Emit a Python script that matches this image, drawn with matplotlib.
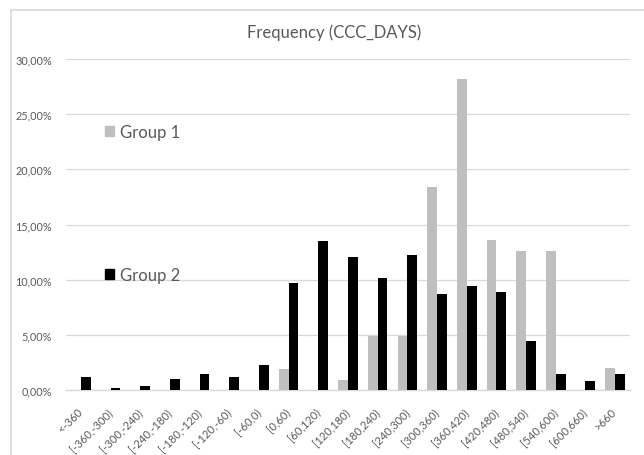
import matplotlib
matplotlib.use("Agg")
import matplotlib.pyplot as plt
from matplotlib.patches import Patch
import numpy as np

plt.rcParams['font.family'] = ['Lato', 'DejaVu Sans']

categories = ["<-360", "[-360,-300)", "[-300,-240)", "[-240,-180)", "[-180,-120)",
              "[-120,-60)", "[-60,0)", "[0,60)", "[60,120)", "[120,180)",
              "[180,240)", "[240,300)", "[300,360)", "[360,420)", "[420,480)",
              "[480,540)", "[540,600)", "[600,660)", ">660"]

group1 = [0.0, 0.0, 0.0, 0.0, 0.0, 0.0, 0.0, 1.9, 0.0, 0.95,
          4.85, 4.85, 18.4, 28.2, 13.6, 12.6, 12.6, 0.0, 1.95]
group2 = [1.15, 0.15, 0.33, 0.97, 1.45, 1.15, 2.24, 9.73, 13.54, 12.09,
          10.18, 12.27, 8.67, 9.46, 8.85, 4.41, 1.45, 0.79, 1.45]

yticks = [0, 5, 10, 15, 20, 25, 30]
ytick_labels = ["0,00%", "5,00%", "10,00%", "15,00%", "20,00%", "25,00%", "30,00%"]

text_color = "#595959"
grid_color = "#d9d9d9"
c1 = "#bfbfbf"
c2 = "#000000"

fig = plt.figure(figsize=(6.44, 4.56), dpi=100)
fig.patch.set_facecolor("white")

# outer chart frame (left and top edges)
fig.add_artist(plt.Line2D([11/644, 11/644], [0, 1 - 11/456], transform=fig.transFigure,
                          color=grid_color, lw=1.2))
fig.add_artist(plt.Line2D([11/644, 1], [1 - 11/456, 1 - 11/456], transform=fig.transFigure,
                          color=grid_color, lw=1.2))

ax = fig.add_axes([66/644, 1 - 391/456, (630 - 66)/644, (391 - 60)/456])

x = np.arange(len(categories))
w = 0.33
ax.bar(x - w/2, group1, width=w, color=c1, label="Group 1", zorder=3)
ax.bar(x + w/2, group2, width=w, color=c2, label="Group 2", zorder=3)

ax.set_xlim(-0.5, len(categories) - 0.5)
ax.set_ylim(0, 30)
ax.set_yticks(yticks)
ax.set_yticklabels(ytick_labels)
ax.yaxis.grid(True, color=grid_color, lw=0.9, zorder=0)
ax.set_axisbelow(True)

ax.set_xticks(x)
ax.set_xticklabels(categories, rotation=45, ha="right", va="center",
                   rotation_mode="anchor")
ax.tick_params(axis="x", length=0, pad=14, labelsize=8, labelcolor=text_color)
ax.tick_params(axis="y", length=0, pad=10, labelsize=7.8, labelcolor=text_color)

for s in ["top", "right", "left"]:
    ax.spines[s].set_visible(False)
ax.spines["bottom"].set_color(grid_color)
ax.spines["bottom"].set_linewidth(1.0)

fig.text(334/644, 1 - 33/456, "Frequency (CCC_DAYS)", color=text_color,
         fontsize=12, ha="center", va="center")

leg_kw = dict(loc="center left", bbox_transform=fig.transFigure, frameon=False,
              fontsize=12, labelcolor=text_color, handlelength=0.55,
              handleheight=0.55, handletextpad=0.35)
leg1 = ax.legend(handles=[Patch(color=c1, label="Group 1")],
                 bbox_to_anchor=(90/644, 1 - 133/456), **leg_kw)
ax.add_artist(leg1)
ax.legend(handles=[Patch(color=c2, label="Group 2")],
          bbox_to_anchor=(90/644, 1 - 276/456), **leg_kw)

fig.savefig("out.png", dpi=100, facecolor="white")
